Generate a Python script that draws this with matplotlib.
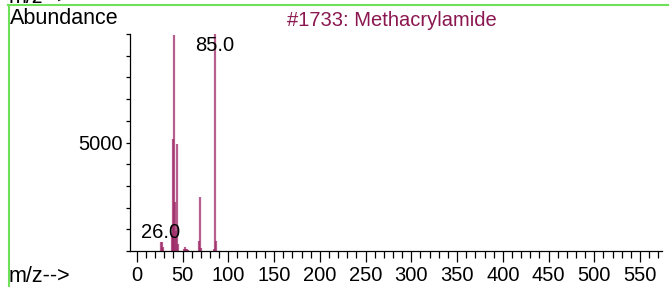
import numpy as np
import matplotlib
matplotlib.use("Agg")
import matplotlib.pyplot as plt
from matplotlib.ticker import MultipleLocator, FixedLocator
from matplotlib.lines import Line2D

plt.rcParams['font.family'] = ['Liberation Sans', 'DejaVu Sans']

# spectrum (m/z, abundance)
mz = [26, 27, 28, 29, 38, 39, 40, 41, 42, 43, 44, 45, 52, 53, 54, 55, 56, 68, 69, 70, 84, 85, 86]
abundance = [420, 430, 150, 200, 700, 5150, 1200, 9950, 2250, 900, 4950, 300,
             100, 180, 100, 80, 60, 450, 2510, 120, 100, 10000, 460]
labeled = [26, 85]
title = "#1733: Methacrylamide"

peak_color = '#9E2A68'
title_color = '#8A1750'
green = '#6FE05A'

W, H = 669, 287
fig = plt.figure(figsize=(W / 100, H / 100), dpi=100)
ax = fig.add_axes([130 / W, (H - 251) / H, (662 - 130) / W, (251 - 34) / H])

ax.vlines(mz, 0, abundance, color=peak_color, alpha=0.75, linewidth=1.6)

ax.set_xlim(-7.5, 574)
ax.set_ylim(0, max(abundance))

ax.spines['top'].set_visible(False)
ax.spines['right'].set_visible(False)
for s in ['left', 'bottom']:
    ax.spines[s].set_linewidth(0.9)

ax.set_xticks(np.arange(0, 551, 50))
ax.xaxis.set_minor_locator(MultipleLocator(10))
ax.yaxis.set_major_locator(FixedLocator([5000]))
ax.yaxis.set_minor_locator(MultipleLocator(1000))
ax.tick_params(axis='x', which='major', direction='out', length=8, width=0.9, labelsize=14.5, pad=3)
ax.tick_params(axis='x', which='minor', direction='out', length=5, width=0.9)
ax.tick_params(axis='y', which='both', direction='out', length=3, width=0.9, labelsize=14.5, pad=2)

ymax = max(abundance)
for m in labeled:
    h = abundance[mz.index(m)]
    if h > ymax * 0.9:
        ax.text(m, ymax * 0.99, f"{m:.1f}", ha='center', va='top', fontsize=14.5)
    else:
        ax.text(m, h, f"{m:.1f}", ha='center', va='bottom', fontsize=14.5)

fig.text(10 / W, (H - 19) / H, "Abundance", ha='left', va='center', fontsize=15.5)
fig.text(392 / W, (H - 20) / H, title, ha='center', va='center', fontsize=14.5, color=title_color)
fig.text(9 / W, (H - 276) / H, "m/z-->", ha='left', va='center', fontsize=15.5)
fig.text(9 / W, (H - 3) / H, "m/z-->", ha='left', va='baseline', fontsize=15.5)

fig.add_artist(Line2D([8 / W, 1], [(H - 5) / H] * 2, color=green, linewidth=1.5))
fig.add_artist(Line2D([8.5 / W] * 2, [0, (H - 5) / H], color=green, linewidth=1.5))

fig.savefig("out.png", dpi=100)
